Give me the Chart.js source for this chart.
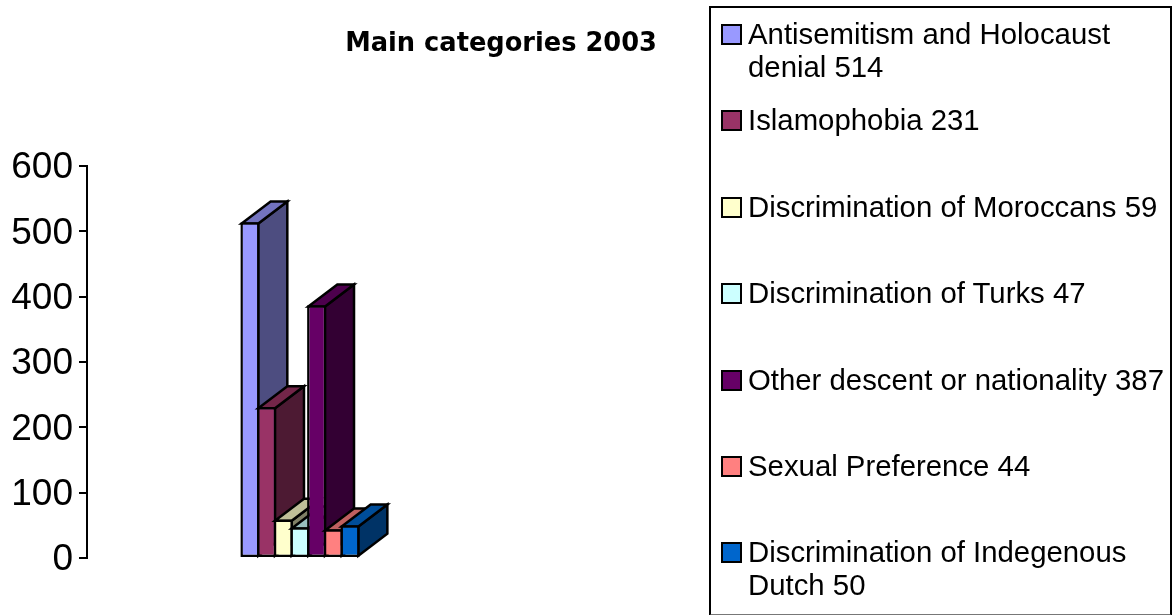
<!DOCTYPE html>
<html>
<head>
<meta charset="utf-8">
<style>
html,body{margin:0;padding:0;background:#fff;overflow:hidden}
#wrap{position:relative;width:1172px;height:615px;font-family:"Liberation Sans",Arial,sans-serif;color:#000}
canvas{position:absolute;left:0;top:0}
#title{position:absolute;right:515px;top:27px;font:bold 25.7px "DejaVu Sans",Verdana,sans-serif;white-space:nowrap;line-height:30px}
#legend{position:absolute;left:709px;top:6px;width:459px;height:606px;border:2px solid #000;border-bottom-color:#777;box-sizing:content-box}
.item{position:absolute;left:37px;width:422px;font-size:29.35px;line-height:33px}
.sw{position:absolute;left:-27px;top:7px;width:17px;height:17px;border:2px solid #000}
</style>
</head>
<body>
<div id="wrap">
<canvas id="c" width="1172" height="615"></canvas>
<div id="title">Main categories 2003</div>
<div id="legend"></div>
</div>
<script src="https://cdn.jsdelivr.net/npm/chart.js@4"></script>
<script>
const categories = ["Antisemitism and Holocaust denial","Islamophobia","Discrimination of Moroccans","Discrimination of Turks","Other descent or nationality","Sexual Preference","Discrimination of Indegenous Dutch"];
const values = [514,231,59,47,387,44,50];
const frontColors = ["#9999FF","#993366","#FFFFCC","#CCFFFF","#660066","#FF8080","#0066CC"];
const topColors = ["#7373BF","#732649","#BFBF99","#99BFBF","#4D004D","#BF6060","#004D99"];
const sideColors = ["#4D4D80","#4D1A33","#808066","#668080","#330033","#804040","#003366"];
const yTicks = [0,100,200,300,400,500,600];
const legendTops = [17,103,190,276,363,449,535];

const depth = {
  id:'depth',
  beforeDatasetsDraw(chart){
    const dx=29, dy=22, g=chart.ctx, inset=1.25;
    categories.forEach((name,i)=>{
      const meta=chart.getDatasetMeta(i);
      const p=meta.data[0].getProps(['x','y','base','width'],true);
      const l=p.x-p.width/2+inset, r=p.x+p.width/2-inset, t=p.y+inset, b=p.base-inset;
      g.save();
      g.strokeStyle='#000'; g.lineWidth=2.5; g.lineJoin='miter';
      g.fillStyle=sideColors[i];
      g.beginPath(); g.moveTo(r,t); g.lineTo(r+dx,t-dy); g.lineTo(r+dx,b-dy); g.lineTo(r,b); g.closePath(); g.fill(); g.stroke();
      g.fillStyle=topColors[i];
      g.beginPath(); g.moveTo(l,t); g.lineTo(l+dx,t-dy); g.lineTo(r+dx,t-dy); g.lineTo(r,t); g.closePath(); g.fill(); g.stroke();
      g.restore();
      meta.controller.draw();
    });
    return false;
  }
};

new Chart(document.getElementById('c'),{
  type:'bar',
  data:{
    labels:['2003'],
    datasets:categories.map((name,i)=>({
      label:name,
      data:[values[i]],
      backgroundColor:frontColors[i],
      borderColor:'#000',
      borderWidth:2.5,
      borderSkipped:false,
      barPercentage:1.15,
      categoryPercentage:0.274
    }))
  },
  options:{
    responsive:false,
    animation:false,
    devicePixelRatio:1,
    layout:{padding:{left:0,top:166,right:659,bottom:57}},
    plugins:{legend:{display:false},title:{display:false},tooltip:{enabled:false}},
    scales:{
      x:{display:false},
      y:{
        min:0,max:600,
        afterFit(s){
          s.width=87;
          if(!s._shifted){
            s._shifted=true;
            const compute=s._computeLabelItems.bind(s);
            s._computeLabelItems=a=>compute(a).map(it=>{it.options.translation[1]+=2;return it;});
          }
        },
        afterBuildTicks(s){s.ticks=yTicks.map(v=>({value:v}));},
        border:{display:true,color:'#000',width:2},
        grid:{drawOnChartArea:false,drawTicks:true,tickLength:8,color:'#000',lineWidth:2},
        ticks:{color:'#000',padding:6,font:{family:'"Liberation Sans",Arial,sans-serif',size:37}}
      }
    }
  },
  plugins:[depth]
});

const box=document.getElementById('legend');
categories.forEach((name,i)=>{
  const d=document.createElement('div');
  d.className='item';
  d.style.top=legendTops[i]-8+'px';
  d.textContent=name+' '+values[i];
  const s=document.createElement('span');
  s.className='sw';
  s.style.background=frontColors[i];
  d.appendChild(s);
  box.appendChild(d);
});
</script>
</body>
</html>
